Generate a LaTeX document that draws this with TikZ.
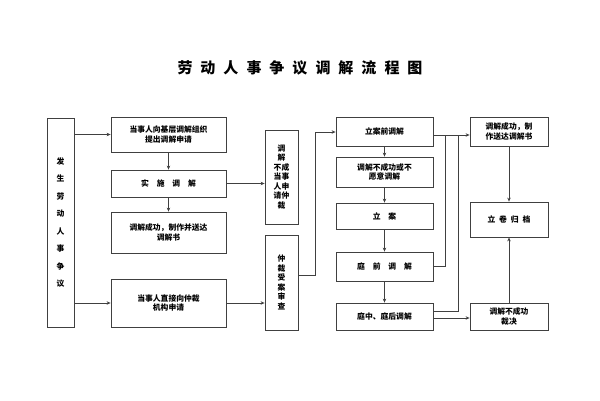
\documentclass[tikz,border=0pt]{standalone}
\usepackage{fontspec}
\newfontfamily\cjk{Noto Sans CJK SC}
\usetikzlibrary{arrows.meta}
\begin{document}
\begin{tikzpicture}[x=1pt,y=-1pt,
  bx/.style={draw=black!75,line width=0.8pt,align=center,font=\cjk\fontsize{7.8}{9.5}\selectfont\bfseries,inner sep=1pt},
  ar/.style={draw=black!75,line width=0.8pt,-{Stealth[length=4pt,width=3.5pt]}},
  ln/.style={draw=black!75,line width=0.8pt}]
\useasboundingbox (0,0) rectangle (600,400);
\node[font=\cjk\fontsize{15}{17}\selectfont\bfseries] (t) at (300,68) {劳\hspace{8pt}动\hspace{8pt}人\hspace{8pt}事\hspace{8pt}争\hspace{8pt}议\hspace{8pt}调\hspace{8pt}解\hspace{8pt}流\hspace{8pt}程\hspace{8pt}图};
\newcommand\bxat[6]{\node[bx,minimum width=#4-#2,minimum height=#5-#3,text width=#4-#2-6] (#1) at ({(#2+#4)/2},{(#3+#5)/2}) {#6};}
\bxat{S}{47}{118}{74}{327}{发\\[8pt]生\\[8pt]劳\\[8pt]动\\[8pt]人\\[8pt]事\\[8pt]争\\[8pt]议}
\bxat{A}{111}{117}{226}{152}{当事人向基层调解组织\\提出调解申请}
\bxat{B}{111}{170}{226}{197}{实\quad 施\quad 调\quad 解}
\bxat{C}{111}{212}{226}{253}{调解成功，制作并送达\\调解书}
\bxat{D}{111}{279}{226}{327}{当事人直接向仲裁\\机构申请}
\bxat{E}{265}{130}{298}{224}{调\\解\\不成\\当事\\人申\\请仲\\裁}
\bxat{F}{265}{235}{298}{330}{仲\\裁\\受\\案\\审\\查}
\bxat{G}{336}{117}{433}{146}{立案前调解}
\bxat{H}{336}{157}{433}{187}{调解不成功或不\\愿意调解}
\bxat{I}{336}{203}{433}{229}{立\quad 案}
\bxat{J}{336}{252}{433}{281}{庭\quad 前\quad 调\quad 解}
\bxat{K}{336}{303}{433}{330}{庭中、庭后调解}
\bxat{L}{470}{117}{548}{146}{调解成功，制\\作送达调解书}
\bxat{M}{470}{202}{548}{237}{立\enspace 卷\enspace 归\enspace 档}
\bxat{N}{470}{303}{548}{330}{调解不成功\\裁决}
\draw[ar] (S.east|-A) -- (A.west);
\draw[ar] (S.east|-0,303) -- (D.west|-0,303);
\draw[ar] (A) -- (B);
\draw[ar] (B) -- (C);
\draw[ar] (B.east) -- (E.west|-B.east);
\draw[ar] (D.east|-0,303) -- (F.west|-0,303);
\draw[ar] (F.east|-0,275) -| (315,132) -- (G.west|-0,132);
\draw[ar] (G) -- (H);
\draw[ar] (H) -- (I);
\draw[ar] (I) -- (J);
\draw[ar] (J) -- (K);
\draw[ar] (G.east|-0,135) -- (L.west|-0,135);
\draw[ln] (J.east|-0,266) -| (445,135);
\draw[ln] (K.east|-0,311) -| (458,135);
\draw[ar] (K.east|-0,318) -- (N.west|-0,318);
\draw[ar] (L) -- (M);
\draw[ar] (N) -- (M);
\end{tikzpicture}
\end{document}
